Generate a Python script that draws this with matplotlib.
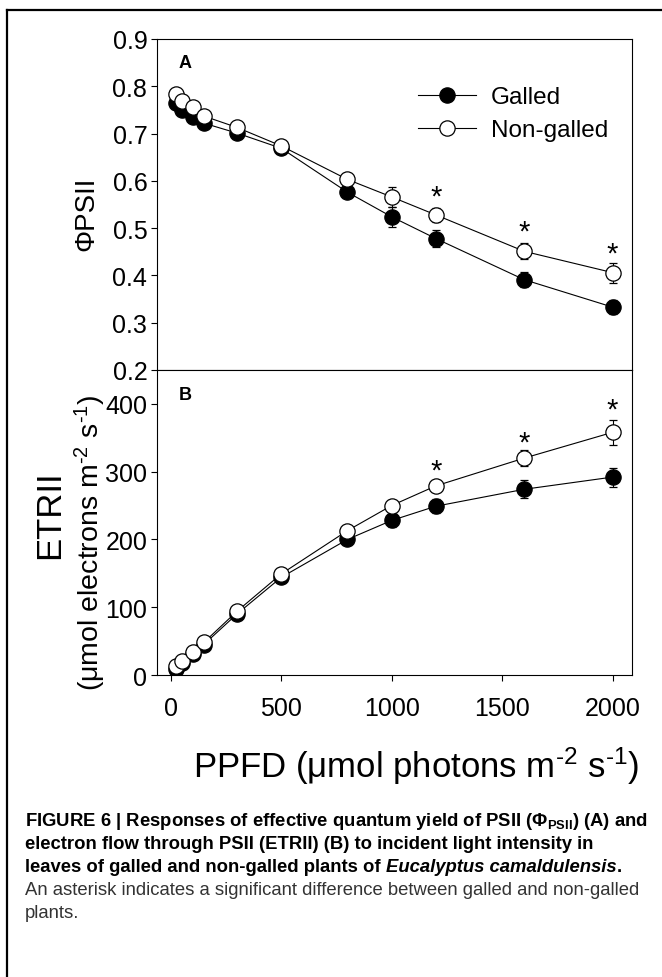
import numpy as np
import matplotlib
matplotlib.use("Agg")
import matplotlib.pyplot as plt
from matplotlib.lines import Line2D
from matplotlib import font_manager

plt.rcParams['font.family'] = ['Liberation Sans', 'DejaVu Sans']
plt.rcParams['mathtext.default'] = 'regular'

# light intensity steps (PPFD)
ppfd = [25, 50, 100, 150, 300, 500, 800, 1000, 1200, 1600, 2000]

# panel A - effective quantum yield
phi_galled = [0.764, 0.750, 0.736, 0.722, 0.701, 0.669, 0.576, 0.524, 0.478, 0.391, 0.333]
phi_galled_se = [0.005, 0.005, 0.005, 0.005, 0.005, 0.005, 0.011, 0.021, 0.018, 0.016, 0.014]
phi_nongalled = [0.783, 0.769, 0.757, 0.737, 0.713, 0.674, 0.603, 0.566, 0.528, 0.451, 0.406]
phi_nongalled_se = [0.005, 0.005, 0.005, 0.005, 0.005, 0.005, 0.010, 0.021, 0.015, 0.017, 0.021]

# panel B - electron transport rate
etr_galled = [9, 18, 31, 45, 90, 144, 200, 228, 249, 274, 292]
etr_galled_se = [1, 1, 2, 2, 3, 4, 5, 10, 10, 13, 14]
etr_nongalled = [13, 21, 34, 48, 94, 149, 213, 250, 279, 320, 358]
etr_nongalled_se = [1, 1, 2, 2, 3, 4, 5, 8, 6, 12, 18]

# significant differences
star_x = [1200, 1600, 2000]
star_phi = [0.567, 0.492, 0.446]
star_etr = [302, 343, 391]

W, H = 662, 978
fig = plt.figure(figsize=(W / 100, H / 100), dpi=100)

# axes box in pixels: x 157-632, A 40-371, B 371-676
x0p, x1p = 157, 632
axA = fig.add_axes([x0p / W, 1 - 371 / H, (x1p - x0p) / W, 331 / H])
axB = fig.add_axes([x0p / W, 1 - 676 / H, (x1p - x0p) / W, 305 / H])

mk = dict(marker='o', markersize=11, markeredgecolor='black', markeredgewidth=0.9,
          color='black', linewidth=0.8, capsize=3, elinewidth=0.8, capthick=0.8)

for ax, g, gse, n, nse in [(axA, phi_galled, phi_galled_se, phi_nongalled, phi_nongalled_se),
                           (axB, etr_galled, etr_galled_se, etr_nongalled, etr_nongalled_se)]:
    ax.errorbar(ppfd, g, yerr=gse, markerfacecolor='black', **mk)
    ax.errorbar(ppfd, n, yerr=nse, markerfacecolor='white', **mk)
    ax.set_xlim(-62, 2088)
    for s in ax.spines.values():
        s.set_linewidth(0.8)
    ax.tick_params(direction='out', length=4, width=0.8, pad=3, labelsize=18,
                   top=False, right=False)

axA.set_ylim(0.2, 0.9)
axA.set_yticks(np.arange(0.2, 0.91, 0.1))
axA.set_yticklabels(['%.1f' % v for v in np.arange(0.2, 0.91, 0.1)])
axA.tick_params(axis='x', bottom=False, labelbottom=False)

axB.set_ylim(0, 450)
axB.set_yticks([0, 100, 200, 300, 400])
axB.set_xticks([0, 500, 1000, 1500, 2000])
axB.tick_params(axis='x', pad=11)

for x, y in zip(star_x, star_phi):
    axA.text(x, y, '*', ha='center', va='center', fontsize=21)
for x, y in zip(star_x, star_etr):
    axB.text(x, y, '*', ha='center', va='center', fontsize=21)

axA.text(0.045, 0.93, 'A', transform=axA.transAxes, fontsize=13, fontweight='bold', va='center')
axB.text(0.045, 0.92, 'B', transform=axB.transAxes, fontsize=13, fontweight='bold', va='center')

handles = [Line2D([], [], color='black', lw=0.8, marker='o', markersize=11,
                  markerfacecolor=fc, markeredgecolor='black', markeredgewidth=0.9)
           for fc in ('black', 'white')]
axA.legend(handles, ['Galled', 'Non-galled'], loc='upper left',
           bbox_to_anchor=(0.549, 0.857), frameon=False, fontsize=17.5,
           handlelength=2.4, handletextpad=0.6, labelspacing=0.45, borderpad=0,
           borderaxespad=0, numpoints=1)

fig.text(86 / W, 1 - 214 / H, 'ΦPSII', rotation=90, fontsize=20, ha='center', va='center')
fig.text(50 / W, 1 - 515 / H, 'ETRII', rotation=90, fontsize=25, ha='center', va='center')
fig.text(90 / W, 1 - 543 / H, '(μmol electrons m$^{‐2}$ s$^{‐1}$)', rotation=90, fontsize=20.5,
         ha='center', va='center')
fig.text(416 / W, 1 - 766 / H, 'PPFD (μmol photons m$^{‐2}$ s$^{‐1}$)', fontsize=25,
         ha='center', va='center')

# caption
names = {f.name for f in font_manager.fontManager.ttflist}
cap_fam = ['Liberation Sans Narrow'] if 'Liberation Sans Narrow' in names else ['Liberation Sans']
cap_fam = cap_fam + ['DejaVu Sans']
xc = 25 / W
lines_y = [822, 845, 868, 891, 914]
line1 = 'FIGURE 6 | Responses of effective quantum yield of PSII ($\\Phi_{PSII}$) (A) and'

r = fig.canvas.get_renderer()
probe = fig.text(xc, 0.5, line1, fontsize=10, fontweight='bold', family=cap_fam)
pw = probe.get_window_extent(r).width
probe.remove()
fs = 10 * (649 - 25) / pw

def put(x, ypx, s, **kw):
    return fig.text(x, 1 - ypx / H, s, fontsize=fs, family=cap_fam, va='center', **kw)

put(xc, lines_y[0], line1, fontweight='bold')
put(xc, lines_y[1], 'electron flow through PSII (ETRII) (B) to incident light intensity in',
    fontweight='bold')
t1 = put(xc, lines_y[2], 'leaves of galled and non-galled plants of ', fontweight='bold')
xe = t1.get_window_extent(r).x1 / W
t2 = put(xe, lines_y[2], 'Eucalyptus camaldulensis', fontweight='bold', style='italic')
put(t2.get_window_extent(r).x1 / W, lines_y[2], '.', fontweight='bold')
put(xc, lines_y[3], 'An asterisk indicates a significant difference between galled and non-galled',
    color='#333333')
put(xc, lines_y[4], 'plants.', color='#333333')

# page frame
fig.add_artist(Line2D([7 / W, 7 / W], [0.0, 1 - 11 / H], transform=fig.transFigure,
                      color='black', linewidth=1.6))
fig.add_artist(Line2D([7 / W, 1.0], [1 - 11 / H, 1 - 11 / H], transform=fig.transFigure,
                      color='black', linewidth=1.6))

fig.savefig('out.png', dpi=100)
